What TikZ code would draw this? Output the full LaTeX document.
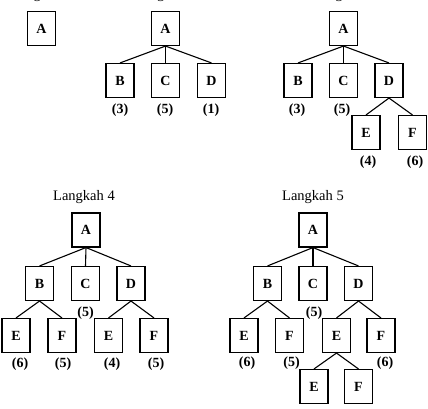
\documentclass[tikz,border=0pt]{standalone}
\usepackage{fontspec}
\setmainfont{Liberation Serif}
\begin{document}
\begin{tikzpicture}[x=1pt,y=-1pt,
 box/.style={draw,line width=1.1pt,minimum width=28pt,minimum height=34pt,inner sep=0pt,font=\fontsize{14}{16}\selectfont\bfseries},
 lab/.style={inner sep=0pt,font=\fontsize{14}{16}\selectfont\bfseries},
 ttl/.style={inner sep=0pt,font=\fontsize{14.5}{16}\selectfont},
 conn/.style={line width=1.1pt}]
\useasboundingbox (0,0) rectangle (428,409);
% titles
\node[ttl,anchor=base] (t1) at (42,-1) {Langkah 1};
\node[ttl,anchor=base] (t2) at (165.5,-1) {Langkah 2};
\node[ttl,anchor=base] (t3) at (343.5,-1) {Langkah 3};
\node[ttl] (t4) at (84,197) {Langkah 4};
\node[ttl] (t5) at (313,197) {Langkah 5};
% tree 1
\node[box] (a1) at (41.5,28.5) {A};
% tree 2
\node[box] (a2) at (165.5,28.5) {A};
\node[box] (b2) at (120,80.5) {B};
\node[box] (c2) at (165.5,80.5) {C};
\node[box] (d2) at (211.5,80.5) {D};
\node[lab] (lb2) at (120,110) {(3)};
\node[lab] (lc2) at (165,110) {(5)};
\node[lab] (ld2) at (211,110) {(1)};
\foreach \n in {b2,c2,d2} \draw[conn] (a2.south) -- (\n.north);
% tree 3
\node[box] (a3) at (343.5,28.5) {A};
\node[box] (b3) at (298,80.5) {B};
\node[box] (c3) at (343.5,80.5) {C};
\node[box] (d3) at (389,80.5) {D};
\node[box] (e3) at (366,132.5) {E};
\node[box] (f3) at (412.5,132.5) {F};
\node[lab] (lb3) at (297,110) {(3)};
\node[lab] (lc3) at (342,110) {(5)};
\node[lab] (le3) at (368,162) {(4)};
\node[lab] (lf3) at (415,162) {(6)};
\foreach \n in {b3,c3,d3} \draw[conn] (a3.south) -- (\n.north);
\foreach \n in {e3,f3} \draw[conn] (d3.south) -- (\n.north);
% tree 4
\node[box] (a4) at (86,230) {A};
\node[box] (b4) at (39.5,283.5) {B};
\node[box] (c4) at (85.5,283.5) {C};
\node[box] (d4) at (131,283.5) {D};
\node[box] (be4) at (16,335.5) {E};
\node[box] (bf4) at (62,335.5) {F};
\node[box] (de4) at (108.5,335.5) {E};
\node[box] (df4) at (154,335.5) {F};
\node[lab] (lc4) at (85.5,313) {(5)};
\node[lab] (lbe4) at (20,364) {(6)};
\node[lab] (lbf4) at (63,364) {(5)};
\node[lab] (lde4) at (112,364) {(4)};
\node[lab] (ldf4) at (156,364) {(5)};
\foreach \n in {b4,c4,d4} \draw[conn] (a4.south) -- (\n.north);
\foreach \n in {be4,bf4} \draw[conn] (b4.south) -- (\n.north);
\foreach \n in {de4,df4} \draw[conn] (d4.south) -- (\n.north);
% tree 5
\node[box] (a5) at (313,230) {A};
\node[box] (b5) at (267.5,283.5) {B};
\node[box] (c5) at (313,283.5) {C};
\node[box] (d5) at (358.5,283.5) {D};
\node[box] (be5) at (244,335.5) {E};
\node[box] (bf5) at (289.5,335.5) {F};
\node[box] (de5) at (336.5,335.5) {E};
\node[box] (df5) at (381,335.5) {F};
\node[box] (ee5) at (314,386.5) {E};
\node[box] (ef5) at (358.5,386.5) {F};
\node[lab] (lc5) at (314,313) {(5)};
\node[lab] (lbe5) at (247,363) {(6)};
\node[lab] (lbf5) at (291.5,363) {(5)};
\node[lab] (ldf5) at (385,363) {(6)};
\foreach \n in {b5,c5,d5} \draw[conn] (a5.south) -- (\n.north);
\foreach \n in {be5,bf5} \draw[conn] (b5.south) -- (\n.north);
\foreach \n in {de5,df5} \draw[conn] (d5.south) -- (\n.north);
\foreach \n in {ee5,ef5} \draw[conn] (de5.south) -- (\n.north);
\end{tikzpicture}
\end{document}
